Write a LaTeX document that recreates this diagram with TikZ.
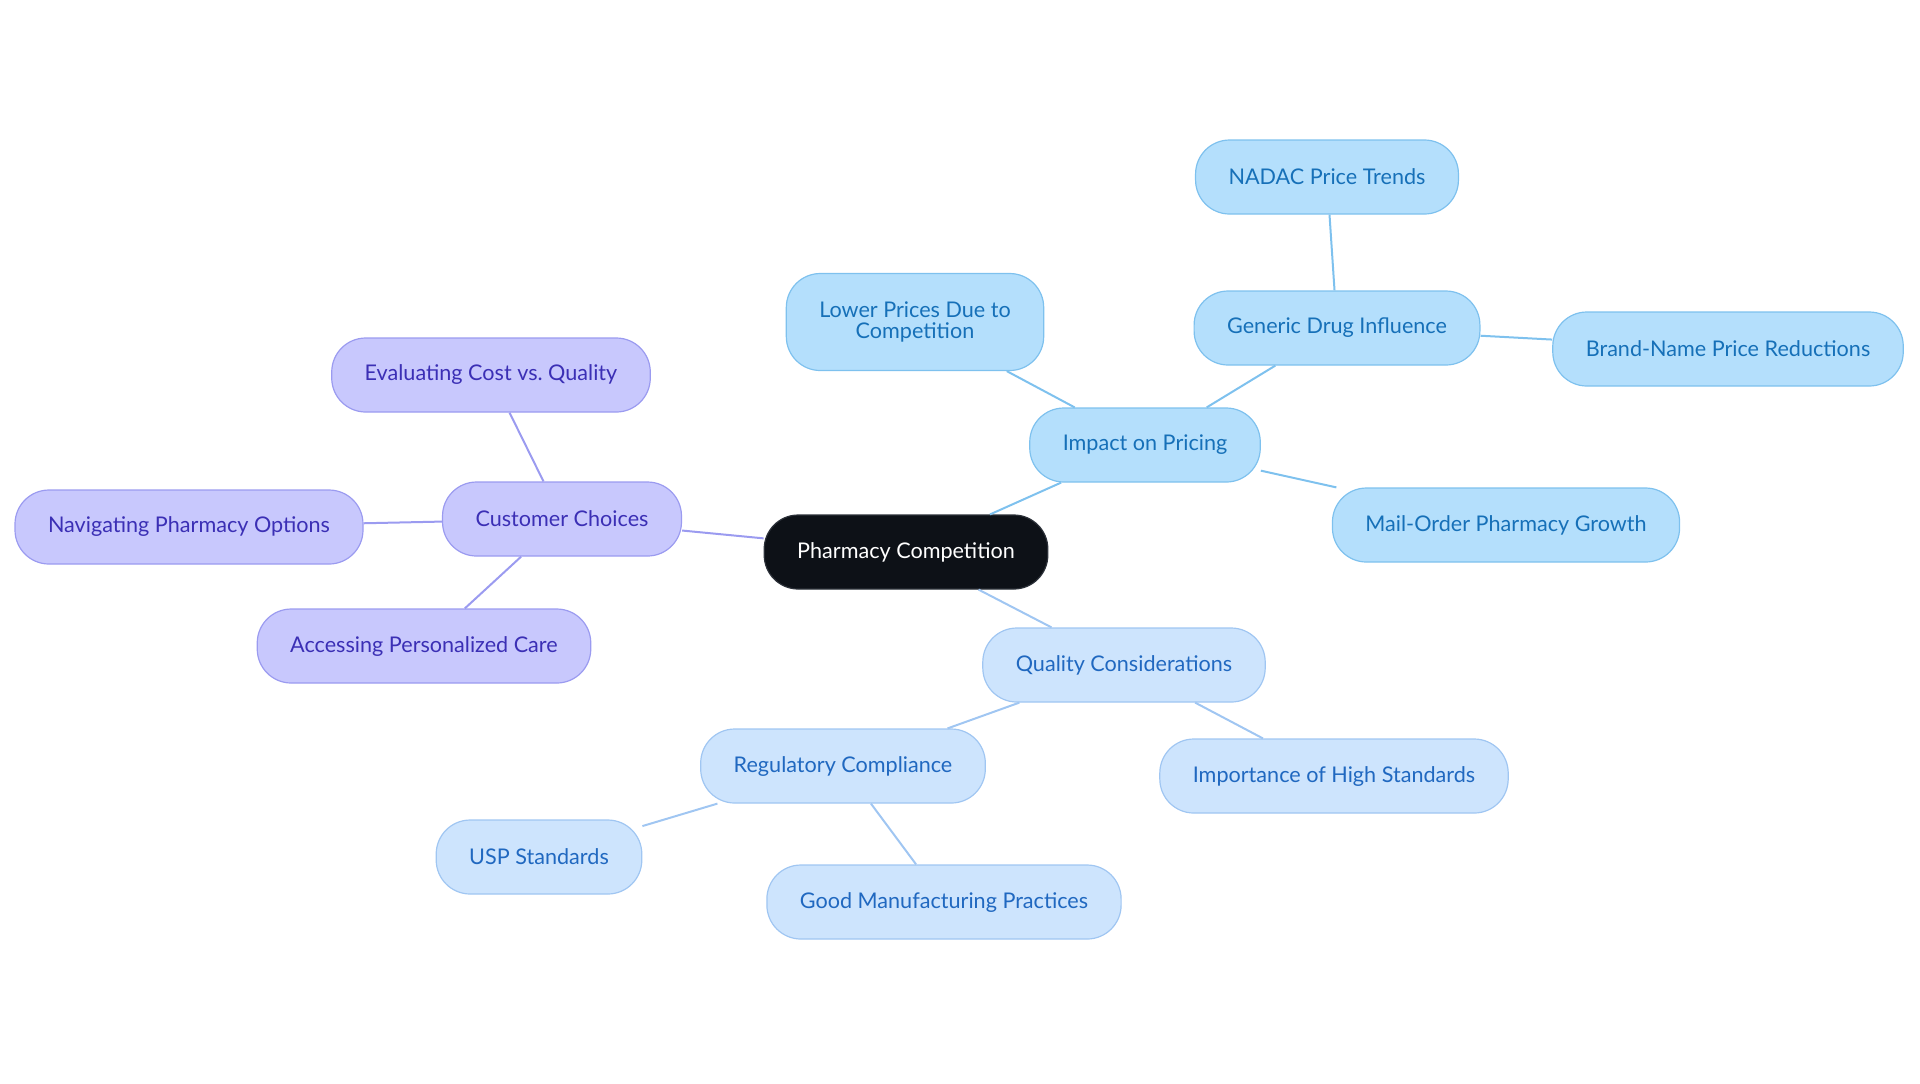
\documentclass[tikz,border=0pt]{standalone}
\usepackage{fontspec}
\setmainfont{Lato}

\definecolor{darkfill}{HTML}{0D1117}
\definecolor{darkline}{HTML}{2B3038}
\definecolor{skyfill}{HTML}{B4DFFC}
\definecolor{skyline}{HTML}{7EC1EE}
\definecolor{skytext}{HTML}{1670B8}
\definecolor{violetfill}{HTML}{C8C8FD}
\definecolor{violetline}{HTML}{9B9BF0}
\definecolor{violettext}{HTML}{3B2FB5}
\definecolor{palefill}{HTML}{CDE4FD}
\definecolor{paleline}{HTML}{A0C6F2}
\definecolor{paletext}{HTML}{2068C0}

\begin{document}
\begin{tikzpicture}[x=0.5pt,y=-0.5pt,
	box/.style={rounded corners=17pt, line width=0.6pt, minimum height=37pt,
		inner xsep=16.5pt, align=center, font=\fontsize{10.8}{10.5}\selectfont},
	rootbox/.style={box, fill=darkfill, draw=darkline, text=white},
	skybox/.style={box, fill=skyfill, draw=skyline, text=skytext},
	violetbox/.style={box, fill=violetfill, draw=violetline, text=violettext},
	palebox/.style={box, fill=palefill, draw=paleline, text=paletext}]

% Page frame
\useasboundingbox (0,0) rectangle (1920,1083);

% Root
\node[rootbox] (root) at (906,552) {Pharmacy Competition};

% Pricing branch
\node[skybox] (pricing) at (1145,445) {Impact on Pricing};
\node[skybox, minimum height=48.5pt] (lower) at (915,322) {Lower Prices Due to\\Competition};
\node[skybox] (generic) at (1337,328) {Generic Drug Influence};
\node[skybox] (nadac) at (1327,177) {NADAC Price Trends};
\node[skybox] (brand) at (1728,349) {Brand-Name Price Reductions};
\node[skybox] (mail) at (1506,525) {Mail-Order Pharmacy Growth};

% Customer branch
\node[violetbox] (choices) at (562,519) {Customer Choices};
\node[violetbox] (cost) at (491,375) {Evaluating Cost vs.\ Quality};
\node[violetbox] (navigate) at (189,527) {Navigating Pharmacy Options};
\node[violetbox] (care) at (424,646) {Accessing Personalized Care};

% Quality branch
\node[palebox] (quality) at (1124,665) {Quality Considerations};
\node[palebox] (regulatory) at (843,766) {Regulatory Compliance};
\node[palebox] (high) at (1334,776) {Importance of High Standards};
\node[palebox] (usp) at (539,857) {USP Standards};
\node[palebox] (gmp) at (944,902) {Good Manufacturing Practices};

% Connectors
\begin{scope}[line width=1pt]
\foreach \a/\b in {root/pricing, pricing/lower, pricing/generic, pricing/mail,
	generic/nadac, generic/brand}
\draw[skyline] (\a) -- (\b);
\foreach \a/\b in {root/choices, choices/cost, choices/navigate, choices/care}
\draw[violetline] (\a) -- (\b);
\foreach \a/\b in {root/quality, quality/regulatory, quality/high,
	regulatory/usp, regulatory/gmp}
\draw[paleline] (\a) -- (\b);
\end{scope}

\end{tikzpicture}
\end{document}
